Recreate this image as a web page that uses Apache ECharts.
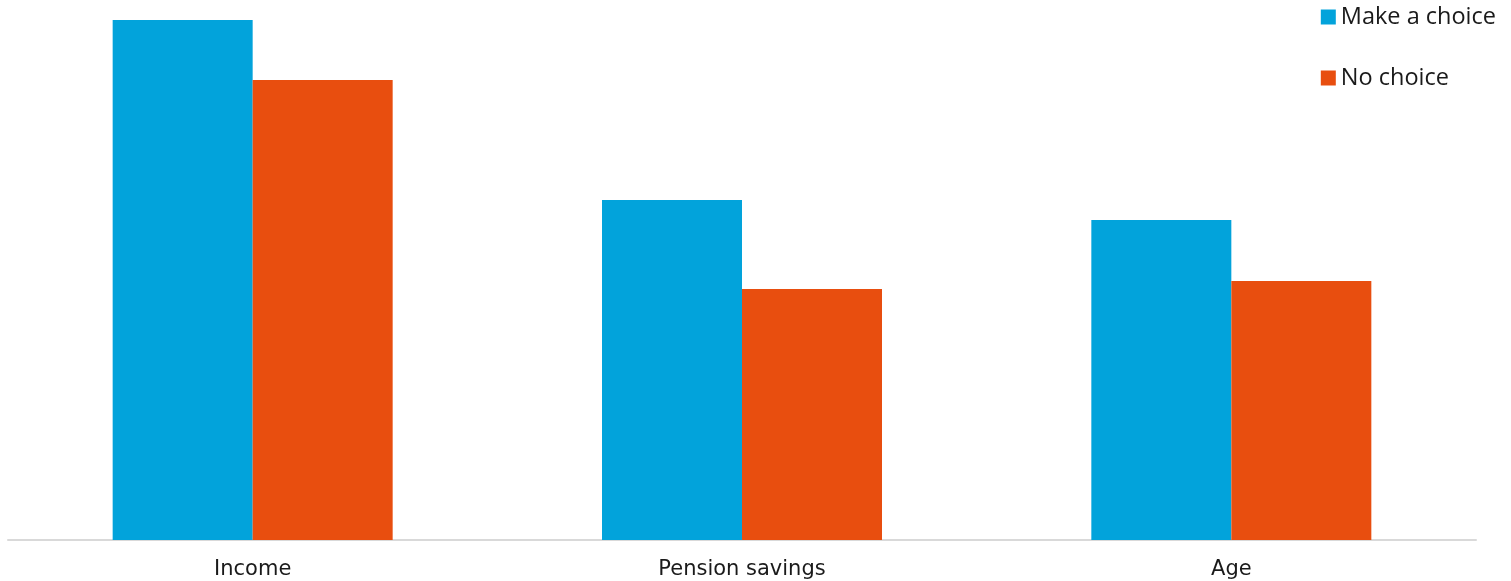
<!DOCTYPE html>
<html>
<head>
<meta charset="utf-8">
<script src="https://cdn.jsdelivr.net/npm/echarts@6/dist/echarts.min.js"></script>
<style>html,body{margin:0;padding:0;background:#fff}#c{width:1511px;height:581px}</style>
</head>
<body>
<div id="c"></div>
<script>
const categories = ['Income', 'Pension savings', 'Age'];
const makeChoice = [26, 17, 16];
const noChoice = [23, 12.55, 12.95];
const seriesNames = ['Make a choice', 'No choice'];

const chart = echarts.init(document.getElementById('c'));
chart.setOption({
  animation: false,
  legend: {
    orient: 'vertical',
    right: 10,
    top: 0,
    itemWidth: 15,
    itemHeight: 15,
    itemGap: 37,
    icon: 'rect',
    textStyle: { fontFamily: 'Open Sans', fontSize: 23.5, color: '#1a1a1a' },
    data: seriesNames
  },
  grid: { left: 8, right: 35, top: 20, bottom: 41, containLabel: false },
  xAxis: {
    type: 'category',
    data: categories,
    axisLine: { lineStyle: { color: '#d9d9d9', width: 2 } },
    axisTick: { show: false },
    axisLabel: { fontFamily: 'DejaVu Sans', fontSize: 21, color: '#1a1a1a', margin: 19 }
  },
  yAxis: {
    type: 'value',
    min: 0,
    max: 26,
    show: false,
    splitLine: { show: false }
  },
  series: [
    { name: seriesNames[0], type: 'bar', data: makeChoice, barWidth: 140, barGap: '0%', itemStyle: { color: '#02A3DB' } },
    { name: seriesNames[1], type: 'bar', data: noChoice, barWidth: 140, barGap: '0%', itemStyle: { color: '#E84E0F' } }
  ]
});
</script>
</body>
</html>
